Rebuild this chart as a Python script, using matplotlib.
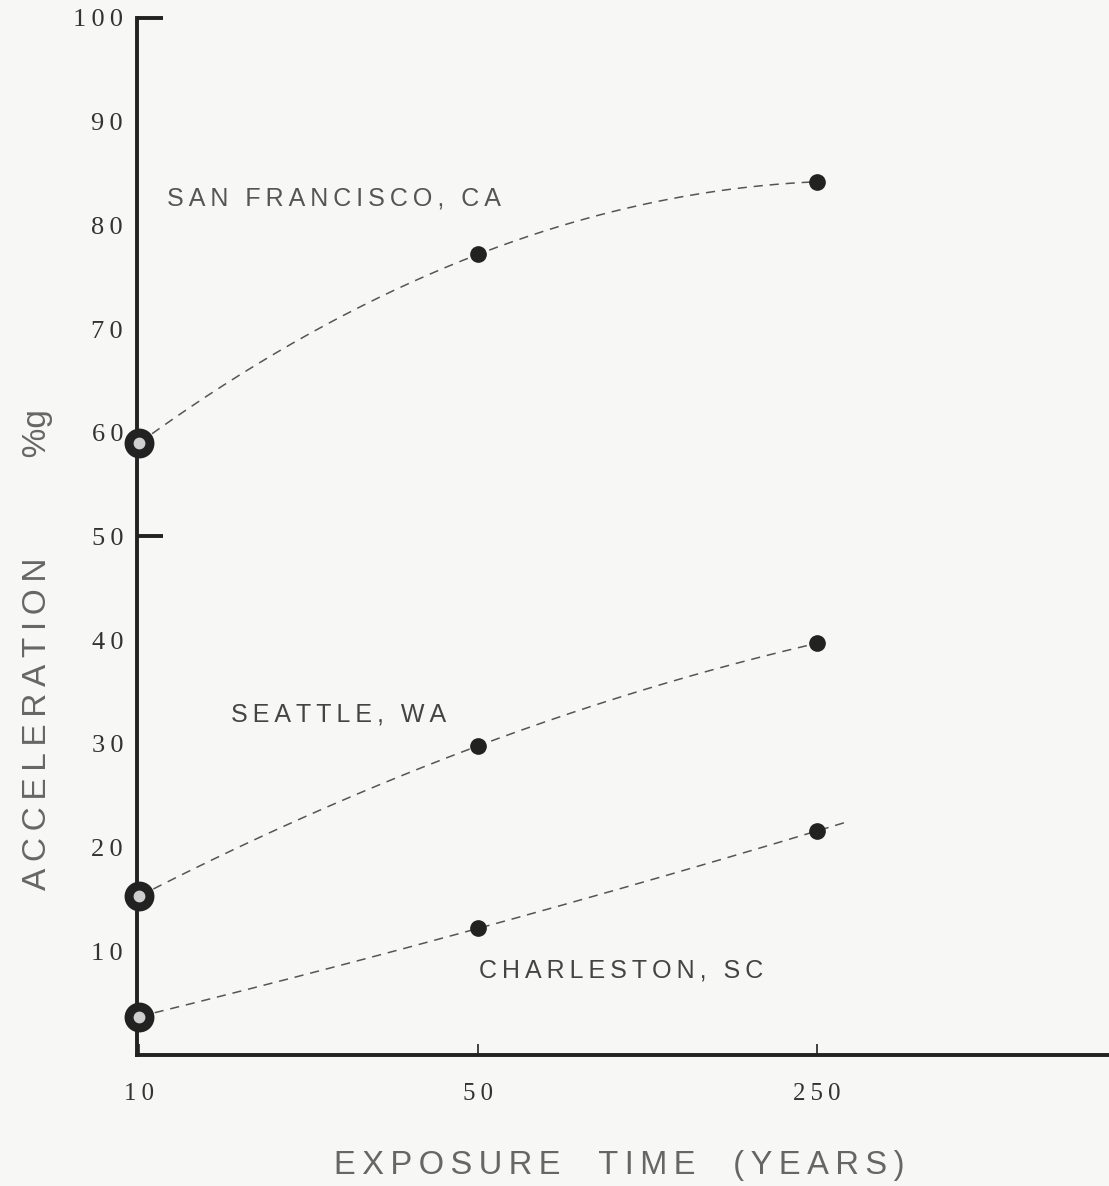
import numpy as np
import matplotlib.pyplot as plt
from matplotlib.transforms import blended_transform_factory

# exposure time (years) and acceleration (%g)
years = [10, 50, 250]
san_francisco = [59.0, 77.2, 84.2]
seattle = [15.3, 29.8, 39.7]
charleston = [3.7, 12.2, 21.6]

xticks = [10, 50, 250]
yticks = [10, 20, 30, 40, 50, 60, 70, 80, 90, 100]
marked_yticks = [50, 100]

bg = '#f7f7f5'
ink = '#222222'
serif = ['Liberation Serif', 'DejaVu Serif']
sans = ['Liberation Sans', 'DejaVu Sans']


def spaced(s, sep='\u2009'):
    # the typewriter lettering on the original is widely spaced
    return sep.join(s)


def smooth(ax, xs, ys, x_end):
    # dashed curve through the points (quadratic in log x)
    lx = np.log(xs)
    coef = np.polyfit(lx, ys, 2)
    xx = np.linspace(lx[0], np.log(x_end), 200)
    ax.plot(np.exp(xx), np.polyval(coef, xx), ls=(0, (6, 4.5)), lw=1.1,
            color='#555555', zorder=2, clip_on=False)


def main():
    fig = plt.figure(figsize=(11.09, 11.86), dpi=100, facecolor=bg)
    ax = fig.add_axes([0.1235, 0.1105, 0.8765, 0.8744])
    ax.set_facecolor(bg)

    ax.set_xscale('log')
    ax.set_xlim(9.9, 1000)
    ax.set_ylim(0, 100)

    for series, end in [(san_francisco, 250), (seattle, 250), (charleston, 285)]:
        smooth(ax, years, series, end)
        # heavy ring at 10 years, solid dots after that
        ax.plot(years[:1], series[:1], 'o', ms=15, mfc='#cfcfcf', mec=ink,
                mew=6.5, zorder=4, clip_on=False)
        ax.plot(years[1:], series[1:], 'o', ms=11, color=ink, zorder=4,
                clip_on=False)

    for s in ['top', 'right']:
        ax.spines[s].set_visible(False)
    for s in ['left', 'bottom']:
        ax.spines[s].set_linewidth(2.8)
        ax.spines[s].set_color(ink)

    ax.set_xticks(xticks)
    ax.set_xticklabels([spaced(str(v)) for v in xticks], family=serif,
                       fontsize=18, color='#333333')
    ax.xaxis.set_minor_locator(plt.NullLocator())
    ax.tick_params(axis='x', direction='in', length=8, width=1.2, pad=20,
                   color=ink)

    ax.set_yticks(yticks)
    ax.set_yticklabels([spaced(str(v)) for v in yticks], family=serif,
                       fontsize=19, color='#333333')
    ax.tick_params(axis='y', length=0, pad=10)
    # only 50 and 100 carry a tick stub on the original
    trans = blended_transform_factory(ax.transAxes, ax.transData)
    for v in marked_yticks:
        ax.plot([0, 0.027], [v, v], color=ink, lw=2.8, transform=trans,
                solid_capstyle='butt', clip_on=False)

    ax.text(11.4, 82.6, spaced('SAN FRANCISCO, CA'), family=sans,
            fontsize=18, color='#555555', va='center')
    ax.text(15.5, 32.8, spaced('SEATTLE, WA'), family=sans, fontsize=18,
            color='#444444', va='center')
    ax.text(50.2, 8.1, spaced('CHARLESTON, SC'), family=sans, fontsize=18,
            color='#444444', va='center')

    fig.text(0.5585, 0.0177, spaced('EXPOSURE  TIME  (YEARS)'), family=sans,
             fontsize=23.5, color='#666666', ha='center', va='center')
    fig.text(0.034, 0.452, spaced('ACCELERATION') + '\u2003\u2003\u2003' + '%g',
             family=sans, fontsize=24, color='#666666', rotation=90,
             ha='center', va='center')

    fig.savefig('out.png', dpi=100, facecolor=bg)


main()
